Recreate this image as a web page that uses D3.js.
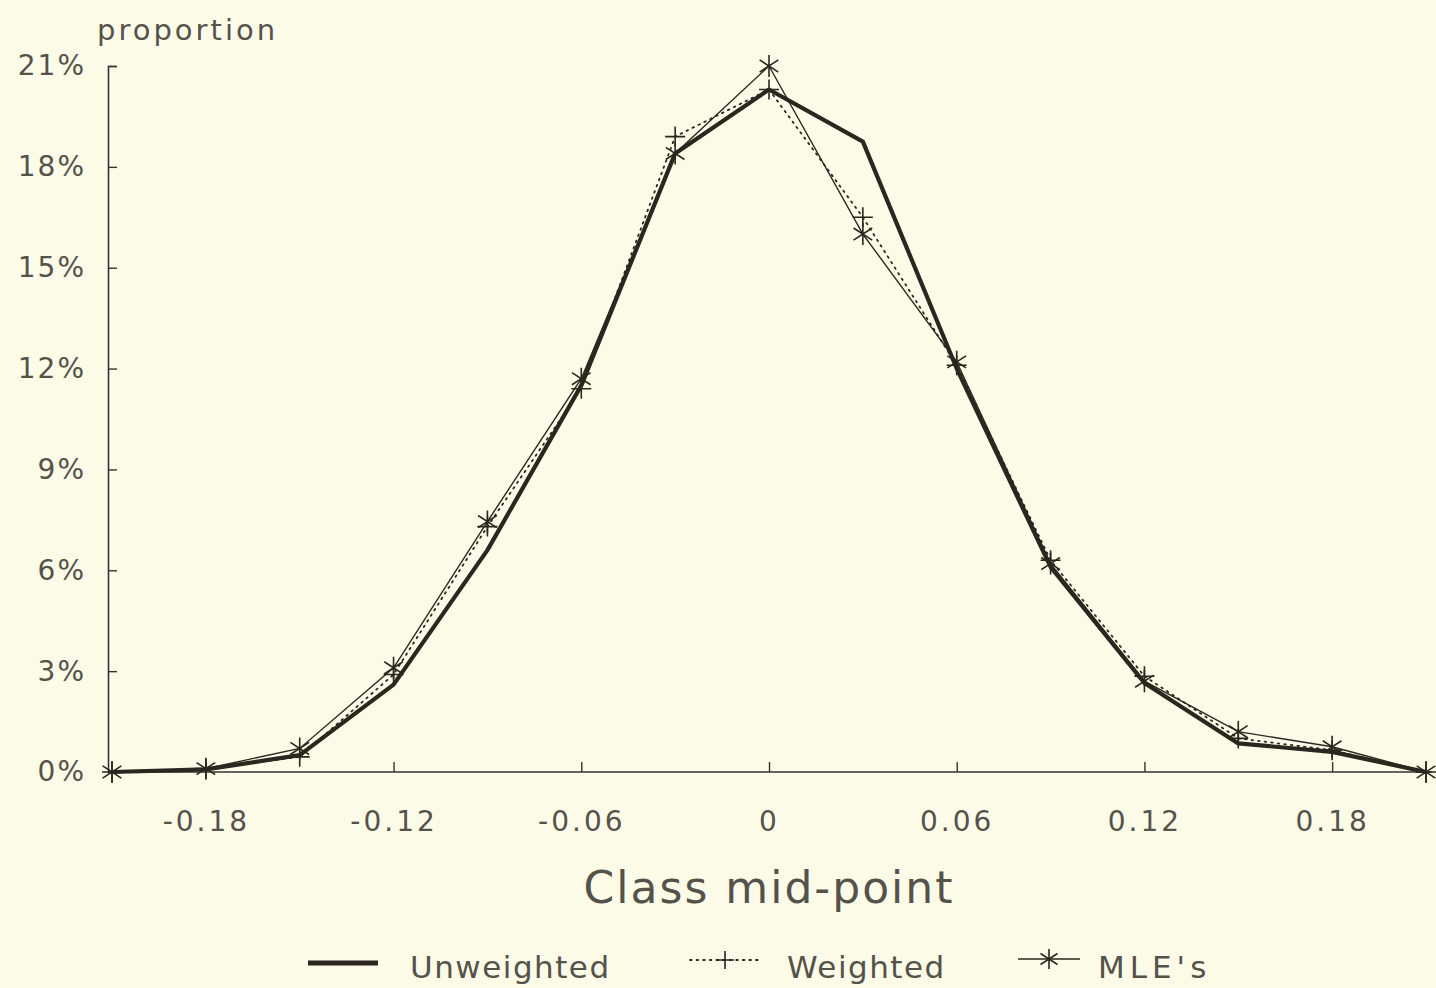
<!DOCTYPE html>
<html>
<head>
<meta charset="utf-8">
<script src="https://cdn.jsdelivr.net/npm/d3@7"></script>
<style>
  html, body { margin: 0; padding: 0; background: #fcfbe8; }
  svg { display: block; }
  text { font-family: "DejaVu Sans", "Liberation Sans", sans-serif; fill: #55524a; }
</style>
</head>
<body>
<svg id="chart" width="1436" height="988"></svg>
<script>
// Class mid-points of the distribution
const midpoints = [-0.21, -0.18, -0.15, -0.12, -0.09, -0.06, -0.03, 0, 0.03, 0.06, 0.09, 0.12, 0.15, 0.18, 0.21];

// Proportions (%) in each class
const unweighted = [0, 0.08, 0.5, 2.6, 6.6, 11.5, 18.4, 20.3, 18.75, 12.0, 6.1, 2.65, 0.85, 0.6, 0];
const weighted   = [0, 0.1, 0.45, 2.9, 7.3, 11.4, 18.9, 20.3, 16.5, 12.1, 6.3, 2.85, 1.0, 0.65, 0];
const mles       = [0, 0.1, 0.7, 3.1, 7.45, 11.7, 18.4, 21.0, 16.0, 12.2, 6.2, 2.7, 1.2, 0.75, 0];

// Axis ticks
const xTickValues = [-0.18, -0.12, -0.06, 0, 0.06, 0.12, 0.18];
const xTickLabels = ["-0.18", "-0.12", "-0.06", "0", "0.06", "0.12", "0.18"];
const yTickValues = [0, 3, 6, 9, 12, 15, 18, 21];
const yTickLabels = ["0%", "3%", "6%", "9%", "12%", "15%", "18%", "21%"];

const seriesNames = ["Unweighted", "Weighted", "MLE's"];

const svg = d3.select("#chart");
const ink = "#2b271e";

const x = d3.scaleLinear().domain([-0.21, 0.21]).range([112, 1426]);
const y = d3.scaleLinear().domain([0, 21]).range([772, 66]);

// Y axis with inward ticks
const yAxis = d3.axisLeft(y)
  .tickValues(yTickValues)
  .tickFormat((d, i) => yTickLabels[i])
  .tickSize(-9)
  .tickPadding(22);
const gy = svg.append("g").attr("transform", `translate(${x(-0.21) - 4},0)`).call(yAxis);
gy.select(".domain").attr("stroke", "#333").attr("stroke-width", 1.6);
gy.selectAll(".tick line").attr("stroke", "#333").attr("stroke-width", 1.4);
gy.selectAll(".tick text")
  .style("font-size", "28px")
  .style("letter-spacing", "2px")
  .attr("fill", "#55524a");

// X axis with inward ticks
const xAxis = d3.axisBottom(x)
  .tickValues(xTickValues)
  .tickFormat((d, i) => xTickLabels[i])
  .tickSize(-10)
  .tickPadding(39);
const gx = svg.append("g").attr("transform", `translate(0,${y(0)})`).call(xAxis);
gx.select(".domain").attr("stroke", "#333").attr("stroke-width", 1.6)
  .attr("d", `M${x(-0.21) - 4},0H${x(0.21) + 6}`);
gx.selectAll(".tick line").attr("stroke", "#333").attr("stroke-width", 1.4);
gx.selectAll(".tick text")
  .style("font-size", "28px")
  .style("letter-spacing", "3px")
  .attr("fill", "#55524a");

// Axis titles
svg.append("text")
  .attr("x", 97).attr("y", 40)
  .style("font-size", "29px")
  .style("letter-spacing", "3px")
  .text("proportion");

svg.append("text")
  .attr("x", x(0)).attr("y", 903)
  .attr("text-anchor", "middle")
  .style("font-size", "44px")
  .style("letter-spacing", "2px")
  .text("Class mid-point");

// Series lines
const line = d3.line().x((d, i) => x(midpoints[i])).y(d => y(d));

svg.append("path").datum(weighted)
  .attr("d", line).attr("fill", "none")
  .attr("stroke", ink).attr("stroke-width", 1.8)
  .attr("stroke-dasharray", "1.6,5").attr("stroke-linecap", "round");

svg.append("path").datum(mles)
  .attr("d", line).attr("fill", "none")
  .attr("stroke", ink).attr("stroke-width", 1.4);

svg.append("path").datum(unweighted)
  .attr("d", line).attr("fill", "none")
  .attr("stroke", ink).attr("stroke-width", 4.2)
  .attr("stroke-linejoin", "round");

// Markers
function plusMark(g, cx, cy, s) {
  g.append("path")
    .attr("d", `M${cx - s},${cy}H${cx + s}M${cx},${cy - s}V${cy + s}`)
    .attr("stroke", ink).attr("stroke-width", 1.6).attr("fill", "none");
}
function starMark(g, cx, cy, s) {
  const dx = s * 0.85, dy = s * 0.55;
  g.append("path")
    .attr("d", `M${cx},${cy - s}V${cy + s}M${cx - dx},${cy - dy}L${cx + dx},${cy + dy}M${cx - dx},${cy + dy}L${cx + dx},${cy - dy}`)
    .attr("stroke", ink).attr("stroke-width", 1.6).attr("fill", "none");
}

const marks = svg.append("g");
weighted.forEach((v, i) => plusMark(marks, x(midpoints[i]), y(v), 10));
mles.forEach((v, i) => starMark(marks, x(midpoints[i]), y(v), 11));

// Legend
const lg = svg.append("g");
const ly = 963;
const legendFont = "31px";
lg.append("path").attr("d", `M308,${ly}H378`).attr("stroke", ink).attr("stroke-width", 5);
lg.append("text").attr("x", 410).attr("y", ly + 15).style("font-size", legendFont)
  .style("letter-spacing", "1.5px").text(seriesNames[0]);

lg.append("path").attr("d", `M690,${ly - 3}H760`).attr("stroke", ink)
  .attr("stroke-width", 1.8).attr("stroke-dasharray", "1.6,5").attr("stroke-linecap", "round");
plusMark(lg, 725, ly - 3, 9);
lg.append("text").attr("x", 787).attr("y", ly + 15).style("font-size", legendFont)
  .style("letter-spacing", "1.5px").text(seriesNames[1]);

lg.append("path").attr("d", `M1018,${ly - 4}H1080`).attr("stroke", ink).attr("stroke-width", 1.5);
starMark(lg, 1049, ly - 4, 10);
lg.append("text").attr("x", 1098).attr("y", ly + 15).style("font-size", legendFont)
  .style("letter-spacing", "5px").text(seriesNames[2]);
</script>
</body>
</html>
